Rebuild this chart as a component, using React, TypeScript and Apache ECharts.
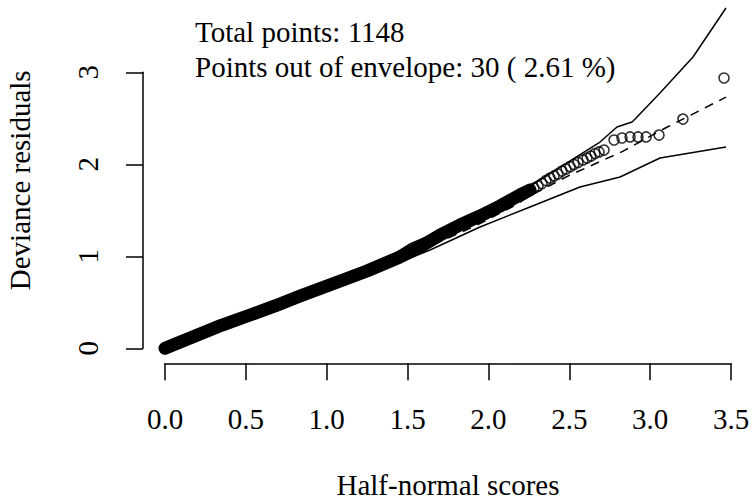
import React, { useEffect, useRef } from "react";
import * as echarts from "echarts";

// Observed residuals (dense part of the half-normal plot, read along the band)
const denseScores = [0, 0.216, 0.353, 0.526, 0.68, 0.835, 1.051, 1.249, 1.453, 1.577, 1.701, 1.824, 1.948, 2.072, 2.195, 2.257];
const denseResiduals = [0, 0.155, 0.253, 0.362, 0.46, 0.568, 0.71, 0.84, 0.993, 1.101, 1.232, 1.34, 1.438, 1.547, 1.667, 1.721];

// Individually visible points in the upper tail
const tailScores = [2.282, 2.307, 2.331, 2.356, 2.381, 2.406, 2.43, 2.455, 2.48, 2.505, 2.529, 2.554, 2.585, 2.61, 2.634, 2.659, 2.684, 2.715, 2.777, 2.826, 2.876, 2.925, 2.975, 3.055, 3.203, 3.457];
const tailResiduals = [1.742, 1.764, 1.791, 1.824, 1.851, 1.873, 1.895, 1.927, 1.949, 1.974, 1.998, 2.02, 2.047, 2.068, 2.09, 2.117, 2.134, 2.155, 2.264, 2.286, 2.297, 2.297, 2.297, 2.318, 2.492, 2.938];

// Simulated envelope
const upperX = [0, 0.526, 1.051, 1.33, 1.515, 1.701, 1.948, 2.257, 2.505, 2.69, 2.795, 2.888, 2.919, 3.061, 3.265, 3.469];
const upperY = [0, 0.373, 0.732, 0.927, 1.134, 1.275, 1.471, 1.764, 2.036, 2.242, 2.405, 2.46, 2.514, 2.775, 3.166, 3.699];
const lowerX = [0, 0.526, 1.051, 1.33, 1.639, 1.948, 2.257, 2.566, 2.814, 3.061, 3.469];
const lowerY = [0, 0.329, 0.666, 0.851, 1.068, 1.318, 1.536, 1.753, 1.862, 2.068, 2.188];
const meanX = [0, 0.5, 1.0, 1.5, 1.93, 2.15, 2.26, 2.5, 2.83, 3.1, 3.469];
const meanY = [0, 0.33, 0.67, 1.0, 1.34, 1.54, 1.66, 1.88, 2.14, 2.4, 2.73];

const annotations = ["Total points: 1148", "Points out of envelope: 30 ( 2.61 %)"];
const xTitle = "Half-normal scores";
const yTitle = "Deviance residuals";

const FONT = "'Liberation Serif', 'Times New Roman', serif";
const zip = (a: number[], b: number[]) => a.map((v, i) => [v, b[i]]);

export default function App() {
  const ref = useRef<HTMLDivElement>(null);
  useEffect(() => {
    if (!ref.current) return;
    const chart = echarts.init(ref.current, undefined, { renderer: "svg" });
    const axisText = { fontFamily: FONT, fontSize: 29, color: "#000" };
    chart.setOption({
      animation: false,
      backgroundColor: "#fff",
      grid: { left: 165, right: 21, top: 72.3, bottom: 151.7, containLabel: false, outerBoundsMode: "none" },
      xAxis: {
        type: "value",
        min: 0,
        max: 3.5,
        interval: 0.5,
        offset: 15,
        splitLine: { show: false },
        axisLine: { show: true, onZero: false, lineStyle: { color: "#000", width: 1.5 } },
        axisTick: { show: true, length: 17, lineStyle: { color: "#000", width: 1.5 } },
        axisLabel: { ...axisText, margin: 41, formatter: (v: number) => v.toFixed(1), showMinLabel: true, showMaxLabel: true },
        name: xTitle,
        nameLocation: "middle",
        nameGap: 107,
        nameTextStyle: axisText,
      },
      yAxis: {
        type: "value",
        min: 0,
        max: 3,
        interval: 1,
        offset: 22,
        splitLine: { show: false },
        axisLine: { show: true, onZero: false, lineStyle: { color: "#000", width: 1.5 } },
        axisTick: { show: true, length: 17, lineStyle: { color: "#000", width: 1.5 } },
        axisLabel: { ...axisText, margin: 41, rotate: 90 },
        name: yTitle,
        nameLocation: "middle",
        nameGap: 109,
        nameRotate: 90,
        nameTextStyle: { ...axisText, padding: [0, 0, 0, 60] },
      },
      graphic: annotations.map((t, i) => ({
        type: "text",
        left: 195,
        top: 17 + i * 35,
        style: { text: t, font: `29px ${FONT}`, fill: "#000" },
      })),
      series: [
        {
          type: "line",
          data: zip(denseScores, denseResiduals),
          symbol: "none",
          clip: false,
          lineStyle: { color: "#000", width: 13, cap: "round", join: "round" },
          z: 2,
        },
        {
          type: "scatter",
          data: [...zip(denseScores, denseResiduals), ...zip(tailScores, tailResiduals)],
          symbol: "circle",
          symbolSize: 10,
          clip: false,
          itemStyle: { color: "rgba(0,0,0,0)", borderColor: "#000", borderWidth: 1.6 },
          z: 3,
        },
        {
          type: "line",
          data: zip(upperX, upperY),
          symbol: "none",
          clip: false,
          lineStyle: { color: "#000", width: 1.5 },
          z: 4,
        },
        {
          type: "line",
          data: zip(lowerX, lowerY),
          symbol: "none",
          clip: false,
          lineStyle: { color: "#000", width: 1.5 },
          z: 4,
        },
        {
          type: "line",
          data: zip(meanX, meanY),
          symbol: "none",
          clip: false,
          lineStyle: { color: "#000", width: 1.5, type: [9, 7] },
          z: 4,
        },
      ],
    });
    return () => chart.dispose();
  }, []);
  return <div ref={ref} style={{ position: "fixed", left: 0, top: 0, width: 752, height: 500 }} />;
}
